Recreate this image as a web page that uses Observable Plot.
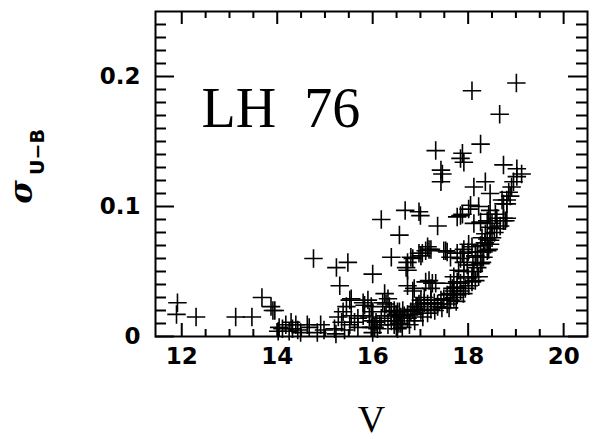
<!DOCTYPE html>
<html>
<head>
<meta charset="utf-8">
<script src="https://cdn.jsdelivr.net/npm/d3@7"></script>
<script src="https://cdn.jsdelivr.net/npm/@observablehq/plot@0.6"></script>
<style>
  html, body { margin: 0; padding: 0; background: #fff; }
  #chart svg text { word-spacing: 14px; }
</style>
</head>
<body>
<div id="chart"></div>
<script>
// ---- data ----
const vMag = [
  11.91, 11.89, 12.30, 13.13, 13.47, 13.68, 13.87, 13.91, 13.95,
  14.04, 14.11, 14.18, 14.29, 14.32, 14.39, 14.43, 14.49, 14.67, 14.63, 14.84, 14.91, 14.98, 15.20, 15.23, 15.41, 14.02, 14.25,
  14.76, 15.24, 15.48, 15.31, 16.00, 16.39, 16.18, 16.68, 16.97, 17.00, 17.36, 16.56,
  16.73, 16.70, 16.73, 16.80, 16.73, 16.87,
  15.52, 15.45, 15.38, 15.55, 15.28, 15.35, 15.80, 15.90, 15.97, 16.00, 15.93, 16.00, 15.97, 16.04, 16.00, 16.18, 16.07,
  15.55, 15.83, 15.62, 15.69, 15.52, 15.69, 15.80,
  16.25, 16.32, 16.21, 16.35, 16.45, 16.39, 16.49, 16.56, 16.63, 16.59, 16.66, 16.73, 16.80, 16.84, 16.91, 16.97,
  17.01, 17.08, 17.15, 17.22, 17.29, 17.36, 17.43, 17.49, 17.56, 17.63, 17.70, 17.77, 17.84,
  16.28, 16.39, 16.45, 16.52, 16.49, 16.39, 16.59, 16.45, 16.25, 16.32, 16.77, 16.52, 16.73,
  17.01, 16.94, 16.87, 17.22, 17.36, 17.08, 17.18, 17.22, 17.32, 17.11, 17.25, 16.84,
  17.11, 17.22, 17.49, 17.01, 16.84, 17.04, 17.18, 17.53, 17.56, 17.63, 17.77, 17.91, 18.00, 18.08,
  17.88, 18.01, 18.15, 18.26, 18.29, 18.36, 18.40, 18.46, 18.43, 18.32, 18.29, 18.19, 18.12, 18.22,
  18.08, 18.01, 17.94, 17.84, 17.77, 17.70, 17.63, 17.56,
  17.80, 17.70, 17.91, 17.77, 17.63, 17.67, 17.91, 17.98, 17.84, 18.19, 18.08, 18.15,
  18.26, 18.32, 18.40, 18.46, 18.50, 18.60, 18.67, 18.74,
  17.84, 18.01, 18.05, 18.22, 18.12, 18.26, 18.43, 18.46, 18.50, 18.74, 18.81, 18.78, 18.57, 18.60, 18.81, 18.46, 18.40,
  17.88, 17.77, 18.12, 18.36, 18.46,
  18.74, 19.02, 19.12, 19.02, 18.95, 18.91, 18.85, 18.88, 18.81, 18.74, 18.71,
  17.32, 17.88, 17.84, 17.91, 18.26, 17.43, 17.46, 17.43,
  18.08, 19.01, 18.66, 17.15, 16.97,
  16.10, 16.15, 16.55, 16.62, 16.88, 17.05, 17.15, 17.30, 17.45, 17.60, 17.75, 17.90, 18.00, 18.10, 18.20, 18.35, 18.55
];
const sigmaUB = [
  0.026, 0.017, 0.015, 0.015, 0.015, 0.030, 0.023, 0.020, 0.020,
  0.007, 0.006, 0.009, 0.011, 0.006, 0.009, 0.005, 0.003, 0.007, 0.009, 0.003, 0.009, 0.005, 0.006, 0.002, 0.005, 0.004, 0.004,
  0.060, 0.053, 0.057, 0.039, 0.048, 0.061, 0.090, 0.097, 0.096, 0.093, 0.085, 0.078,
  0.057, 0.053, 0.051, 0.061, 0.039, 0.037,
  0.028, 0.023, 0.019, 0.016, 0.015, 0.011, 0.026, 0.028, 0.023, 0.019, 0.015, 0.012, 0.007, 0.007, 0.003, 0.014, 0.011,
  0.029, 0.024, 0.011, 0.007, 0.009, 0.014, 0.016,
  0.033, 0.029, 0.026, 0.023, 0.020, 0.016, 0.017, 0.019, 0.020, 0.015, 0.016, 0.017, 0.019, 0.021, 0.023, 0.025,
  0.028, 0.026, 0.025, 0.028, 0.026, 0.025, 0.028, 0.029, 0.032, 0.033, 0.035, 0.038, 0.041,
  0.025, 0.019, 0.016, 0.019, 0.012, 0.012, 0.010, 0.009, 0.016, 0.009, 0.009, 0.006, 0.014,
  0.020, 0.023, 0.017, 0.021, 0.023, 0.030, 0.043, 0.037, 0.041, 0.042, 0.041, 0.035,
  0.066, 0.067, 0.066, 0.062, 0.060, 0.064, 0.067, 0.066, 0.065, 0.061, 0.064, 0.067, 0.065, 0.069,
  0.064, 0.071, 0.062, 0.070, 0.076, 0.079, 0.075, 0.074, 0.067, 0.065, 0.057, 0.053, 0.050, 0.046,
  0.042, 0.039, 0.037, 0.035, 0.032, 0.030, 0.028, 0.025,
  0.051, 0.046, 0.050, 0.042, 0.041, 0.037, 0.057, 0.055, 0.060, 0.061, 0.046, 0.043,
  0.056, 0.061, 0.066, 0.071, 0.076, 0.083, 0.085, 0.089,
  0.093, 0.098, 0.101, 0.100, 0.087, 0.088, 0.094, 0.097, 0.087, 0.091, 0.102, 0.089, 0.094, 0.091, 0.091, 0.084, 0.089,
  0.094, 0.092, 0.115, 0.119, 0.110,
  0.132, 0.129, 0.125, 0.123, 0.119, 0.115, 0.111, 0.108, 0.105, 0.102, 0.105,
  0.143, 0.141, 0.137, 0.134, 0.148, 0.128, 0.125, 0.119,
  0.189, 0.195, 0.171, 0.069, 0.064,
  0.006, 0.009, 0.010, 0.007, 0.012, 0.015, 0.018, 0.020, 0.022, 0.022, 0.027, 0.033, 0.045, 0.055, 0.065, 0.072, 0.080
];

const xMajorTicks = [12, 14, 16, 18, 20];
const xMinorTicks = [12.5, 13, 13.5, 14.5, 15, 15.5, 16.5, 17, 17.5, 18.5, 19, 19.5];
const yMajorTicks = [0, 0.1, 0.2];
const yMinorTicks = [0.01,0.02,0.03,0.04,0.05,0.06,0.07,0.08,0.09,0.11,0.12,0.13,0.14,0.15,0.16,0.17,0.18,0.19,0.21,0.22,0.23,0.24];
const xDomain = [11.45, 20.5];
const yDomain = [0, 0.25];
const xLabel = "V";
const yLabelMain = "σ";
const yLabelSub = "U−B";
const annotation = "LH 76";

// ---- layout ----
const W = 596, H = 439;
const mL = 155, mR = 9, mT = 11, mB = 103;
const plotW = W - mL - mR, plotH = H - mT - mB;
const xMaj = 13, xMin = 7, yMaj = 19, yMin = 11;
const tickFont = "'DejaVu Sans', Verdana, sans-serif";
const serif = "'Liberation Serif', 'Times New Roman', serif";

const chart = Plot.plot({
  width: W,
  height: H,
  marginLeft: mL,
  marginRight: mR,
  marginTop: mT,
  marginBottom: mB,
  style: {background: "#fff", color: "#000", fontFamily: tickFont, overflow: "visible"},
  x: {domain: xDomain, axis: null},
  y: {domain: yDomain, axis: null},
  marks: [
    // inward tick marks on all four sides
    Plot.tickX(xMajorTicks, {x: d => d, insetTop: plotH - xMaj, stroke: "#000", strokeWidth: 2}),
    Plot.tickX(xMinorTicks, {x: d => d, insetTop: plotH - xMin, stroke: "#000", strokeWidth: 2}),
    Plot.tickX(xMajorTicks, {x: d => d, insetBottom: plotH - xMaj, stroke: "#000", strokeWidth: 2}),
    Plot.tickX(xMinorTicks, {x: d => d, insetBottom: plotH - xMin, stroke: "#000", strokeWidth: 2}),
    Plot.tickY(yMajorTicks, {y: d => d, insetRight: plotW - yMaj, stroke: "#000", strokeWidth: 2}),
    Plot.tickY(yMinorTicks, {y: d => d, insetRight: plotW - yMin, stroke: "#000", strokeWidth: 2}),
    Plot.tickY(yMajorTicks, {y: d => d, insetLeft: plotW - yMaj, stroke: "#000", strokeWidth: 2}),
    Plot.tickY(yMinorTicks, {y: d => d, insetLeft: plotW - yMin, stroke: "#000", strokeWidth: 2}),
    Plot.frame({stroke: "#000", strokeWidth: 2}),
    // tick labels
    Plot.axisX(xMajorTicks, {
      tickSize: 0, tickPadding: 11, label: null,
      fontSize: 23, fontWeight: "bold", fontFamily: tickFont, fill: "#000"
    }),
    Plot.axisY(yMajorTicks, {
      tickSize: 0, tickPadding: 15, label: null,
      tickFormat: d => d === 0 ? "0" : d.toFixed(1),
      fontSize: 23, fontWeight: "bold", fontFamily: tickFont, fill: "#000"
    }),
    // data
    Plot.dot(vMag, {
      x: vMag, y: sigmaUB, symbol: "plus", r: 6,
      stroke: "#000", strokeWidth: 1.6
    }),
    // annotation
    Plot.text([annotation], {
      text: d => d, frameAnchor: "top-left", dx: 46, dy: 76,
      textAnchor: "start", lineAnchor: "top",
      fontSize: 56, fontFamily: serif, fill: "#000"
    }),
    // axis labels
    Plot.text([xLabel], {
      text: d => d, frameAnchor: "bottom", dy: 83,
      textAnchor: "middle", lineAnchor: "middle",
      fontSize: 38, fontFamily: serif, fill: "#000"
    }),
    Plot.text([yLabelMain], {
      text: d => d, frameAnchor: "left", dx: -134, dy: 18, rotate: -90,
      textAnchor: "middle", lineAnchor: "middle",
      fontSize: 32, fontWeight: "bold", fontStyle: "italic", fontFamily: "'DejaVu Serif', serif", fill: "#000"
    }),
    Plot.text([yLabelSub], {
      text: d => d, frameAnchor: "left", dx: -118, dy: -22, rotate: -90,
      textAnchor: "middle", lineAnchor: "middle",
      fontSize: 19, fontWeight: "bold", fontFamily: tickFont, fill: "#000"
    })
  ]
});

document.getElementById("chart").appendChild(chart);
</script>
</body>
</html>
